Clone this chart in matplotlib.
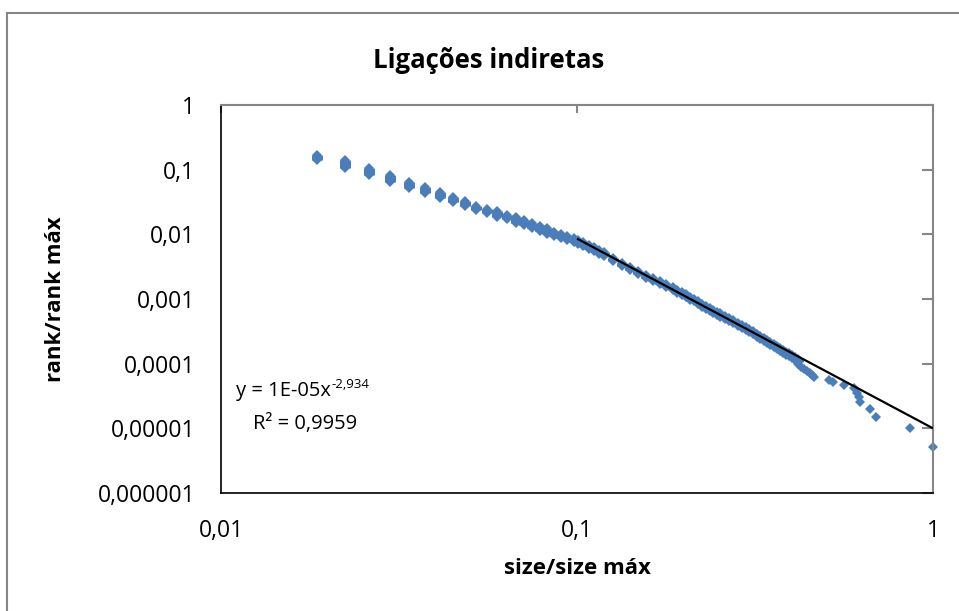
import matplotlib
matplotlib.use('Agg')
import matplotlib.pyplot as plt
from matplotlib.lines import Line2D
from matplotlib.ticker import NullLocator
import numpy as np

plt.rcParams['font.family'] = ['Open Sans', 'DejaVu Sans']

# ---------------- data ----------------
title = "Ligações indiretas"
x_label = "size/size máx"
y_label = "rank/rank máx"
x_ticks = [0.01, 0.1, 1]
x_tick_labels = ["0,01", "0,1", "1"]
y_ticks = [1e-6, 1e-5, 1e-4, 1e-3, 1e-2, 1e-1, 1]
y_tick_labels = ["0,000001", "0,00001", "0,0001", "0,001", "0,01", "0,1", "1"]

# sizes with several tied ranks: top and bottom of each tied group
size_ratio_ties = [0.01859, 0.02237, 0.02608, 0.02975, 0.03364, 0.03731, 0.04113, 0.04474,
                   0.04847, 0.05216, 0.05601, 0.05964, 0.06363, 0.06745, 0.07116, 0.07482,
                   0.07857, 0.08249, 0.08645, 0.09028, 0.09385, 0.09795,
                   0.1004, 0.1041, 0.1078, 0.1115, 0.1152, 0.1190, 0.1264, 0.1338, 0.1413,
                   0.1487, 0.1561, 0.1636, 0.1710, 0.1784, 0.1859, 0.1914, 0.1970, 0.2026,
                   0.2082, 0.2138, 0.2193, 0.2249, 0.2305, 0.2361, 0.2416, 0.2472, 0.2528,
                   0.2602, 0.2677, 0.2751, 0.2825, 0.2900, 0.2974, 0.3048, 0.3123, 0.3197,
                   0.3271, 0.3346, 0.3420, 0.3494, 0.3569, 0.3643, 0.3717, 0.3792, 0.3866,
                   0.3941, 0.4015, 0.4089, 0.4164]
rank_ratio_top = [0.1686, 0.1411, 0.1050, 0.0827, 0.0652, 0.0534, 0.0447, 0.0378, 0.0328,
                  0.0277, 0.0246, 0.02255, 0.02026, 0.01822, 0.01637, 0.01471, 0.01345,
                  0.01231, 0.01106, 0.01012, 0.00933, 0.00878,
                  0.00820, 0.00750, 0.00689, 0.00628, 0.00575, 0.00526, 0.00432, 0.00365,
                  0.00315, 0.00273, 0.00237, 0.002097, 0.001878, 0.001687, 0.001524, 0.001397,
                  0.001285, 0.001184, 0.001092, 0.000986, 0.000921, 0.000849, 0.000782,
                  0.000729, 0.000680, 0.000637, 0.000597, 0.000554, 0.000514, 0.000471,
                  0.000430, 0.000399, 0.000370, 0.000342, 0.000315, 0.000292, 0.000270,
                  0.000251, 0.000233, 0.000217, 0.0002015, 0.000189, 0.0001762, 0.0001646,
                  0.0001540, 0.0001447, 0.0001356, 0.0001271, 0.0001196]
rank_ratio_bottom = [0.1411, 0.1050, 0.0827, 0.0652, 0.0526, 0.0440, 0.0369, 0.0320, 0.0274,
                     0.0238, 0.0211, 0.01887, 0.01697, 0.01524, 0.01370, 0.01231, 0.01126,
                     0.01030, 0.00943, 0.00878, 0.00809, 0.00761,
                     0.00711, 0.00651, 0.00598, 0.00545, 0.00498, 0.00456, 0.00388, 0.00328,
                     0.00283, 0.00245, 0.00213, 0.001886, 0.001688, 0.001516, 0.001369, 0.001255,
                     0.001154, 0.001064, 0.000981, 0.000918, 0.000827, 0.000763, 0.000702,
                     0.000655, 0.000611, 0.000573, 0.000536, 0.000498, 0.000462, 0.000423,
                     0.000387, 0.000358, 0.000333, 0.000307, 0.000283, 0.000263, 0.000243,
                     0.000226, 0.000209, 0.000195, 0.000181, 0.0001697, 0.0001583, 0.0001479,
                     0.0001384, 0.0001300, 0.0001218, 0.0001142, 0.0001075]

# largest sizes (single ranks)
size_ratio_tail = [0.417, 0.425, 0.434, 0.442, 0.451, 0.457, 0.463, 0.510, 0.523, 0.561,
                   0.600, 0.611, 0.619, 0.623, 0.666, 0.691, 0.860, 1.0]
rank_ratio_tail = [9.89e-5, 8.89e-5, 8.28e-5, 7.71e-5, 7.18e-5, 6.68e-5, 6.18e-5, 5.67e-5,
                   5.15e-5, 4.65e-5, 4.16e-5, 3.56e-5, 3.05e-5, 2.55e-5, 1.99e-5, 1.51e-5,
                   1.02e-5, 5.09e-6]

# power trendline y = a * x^b
trend_coef = 1e-5
trend_exp = -2.934
trend_x = [0.1, 1.0]
eq_main = "y = 1E-05x"
eq_sup = "-2,934"
r2_text = "R² = 0,9959"

# ---------------- drawing ----------------
W, H = 959, 611
blue = '#4A7EBB'
gray = '#868686'
ms = 5.6

fig = plt.figure(figsize=(W / 100, H / 100), dpi=100)
fig.patch.set_facecolor('white')
ax = fig.add_axes([221 / W, (H - 493) / H, 712 / W, 388 / H])
ax.set_xscale('log')
ax.set_yscale('log')
ax.set_xlim(0.01, 1)
ax.set_ylim(1e-6, 1)

# tied groups: a band between top and bottom + diamonds at ends
ax.vlines(size_ratio_ties, rank_ratio_bottom, rank_ratio_top, colors=blue,
          linewidth=ms * 1.414, capstyle='butt', zorder=2)
ax.plot(size_ratio_ties, rank_ratio_top, linestyle='none', marker='D', ms=ms,
        mew=0, color=blue, zorder=2, clip_on=False)
ax.plot(size_ratio_ties, rank_ratio_bottom, linestyle='none', marker='D', ms=ms,
        mew=0, color=blue, zorder=2, clip_on=False)
ax.plot(size_ratio_tail, rank_ratio_tail, linestyle='none', marker='D', ms=ms,
        mew=0, color=blue, zorder=2, clip_on=False)

tx = np.array(trend_x)
ax.plot(tx, trend_coef * tx ** trend_exp, color='black', lw=1.6, zorder=3,
        solid_capstyle='butt')

# axes styling (Excel-like)
for side in ['left', 'bottom']:
    ax.spines[side].set_color('black')
    ax.spines[side].set_linewidth(1.2)
for side in ['top', 'right']:
    ax.spines[side].set_color(gray)
    ax.spines[side].set_linewidth(1.5)

ax.set_xticks(x_ticks)
ax.set_xticklabels(x_tick_labels)
ax.set_yticks(y_ticks)
ax.set_yticklabels(y_tick_labels)
ax.xaxis.set_minor_locator(NullLocator())
ax.yaxis.set_minor_locator(NullLocator())
ax.tick_params(axis='x', which='major', bottom=False, top=True, labelbottom=True,
               labeltop=False, direction='in', length=6, width=1.5, color=gray,
               pad=18.5, labelsize=16.5)
ax.tick_params(axis='y', which='major', left=False, right=True, labelleft=True,
               labelright=False, direction='in', length=8, width=1.5, color=gray,
               pad=18.5, labelsize=16.5)

fig.text(489 / W, 1 - 68 / H, title, ha='center', va='baseline', fontsize=18.5,
         fontweight='bold')
fig.text(577 / W, 1 - 574 / H, x_label, ha='center', va='baseline', fontsize=16,
         fontweight='bold')
fig.text(56 / W, 1 - 299 / H, y_label, ha='center', va='center', rotation=90,
         fontsize=16, fontweight='bold')

eq = fig.text(236 / W, 1 - 396 / H, eq_main, ha='left', va='baseline', fontsize=14.5)
fig.canvas.draw()
bb = eq.get_window_extent()
fig.text(bb.x1 / W + 0.5 / W, 1 - 388 / H, eq_sup, ha='left', va='baseline', fontsize=9.5)
fig.text(253 / W, 1 - 429 / H, r2_text, ha='left', va='baseline', fontsize=14.5)

# outer chart frame
fig.add_artist(Line2D([7 / W, 7 / W], [1 - 13 / H, 0], transform=fig.transFigure,
                      color=gray, lw=1.5))
fig.add_artist(Line2D([7 / W, 1], [1 - 13 / H, 1 - 13 / H], transform=fig.transFigure,
                      color=gray, lw=1.5))

fig.savefig('out.png', dpi=100, facecolor='white')
